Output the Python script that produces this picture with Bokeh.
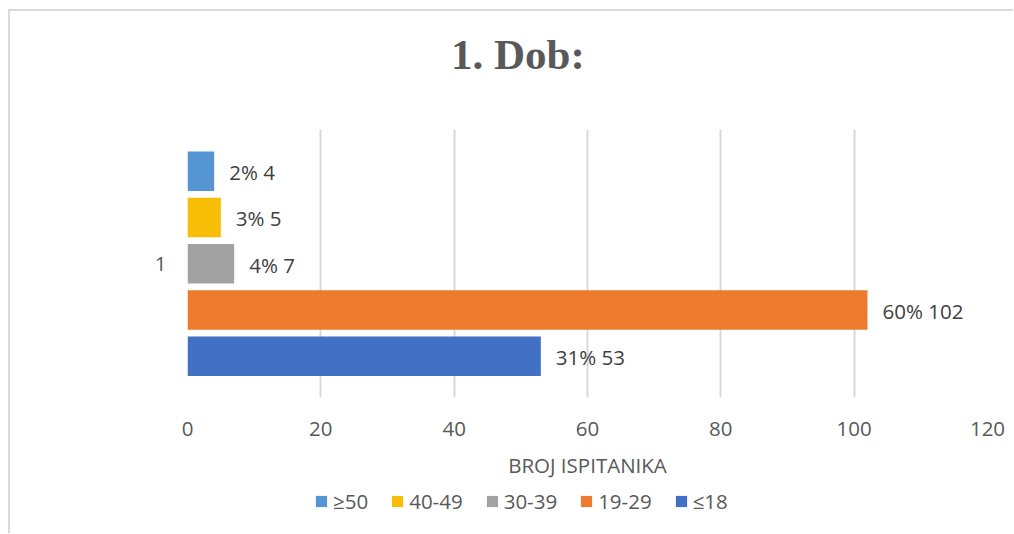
from bokeh.plotting import figure
from bokeh.layouts import column
from bokeh.models import (ColumnDataSource, Range1d, FixedTicker, Legend, LegendItem, Div)
from bokeh.core.properties import value
from bokeh.embed import file_html
from bokeh.resources import INLINE

# ---- data ----
categories = ["≥50", "40-49", "30-39", "19-29", "≤18"]
counts = [4, 5, 7, 102, 53]
percents = ["2%", "3%", "4%", "60%", "31%"]
colors = ["#5595d3", "#f8bd07", "#a2a2a2", "#ee7a2e", "#4270c4"]
group_label = "1"
x_ticks = [0, 20, 40, 60, 80, 100, 120]
title_text = "1. Dob:"
x_label = "BROJ ISPITANIKA"

n = len(categories)
ypos = [n - 1 - i for i in range(n)]  # top to bottom
labels = [f"{p} {c}" for p, c in zip(percents, counts)]

FONT = "Open Sans"
FS = "20.5px"

# title block
title_div = Div(
    text=('<div style="padding-left:441px;padding-top:19px;margin:0;'
          'font-family:\'Liberation Serif\';font-weight:bold;font-size:43px;'
          'line-height:49px;color:#595959;white-space:nowrap">'
          f'{title_text}</div>'),
    width=1003, height=90, margin=0)

p = figure(frame_width=800, frame_height=268, output_backend="svg", toolbar_location=None,
           x_range=Range1d(0, 120), y_range=Range1d(-0.89, n - 1 + 0.9),
           min_border_left=177, min_border_right=26, min_border_top=28,
           min_border_bottom=92)
p.title.text = ""
p.background_fill_color = "white"
p.border_fill_color = "white"
p.outline_line_color = None

for i in range(n):
    src = ColumnDataSource(dict(y=[ypos[i]], right=[counts[i]], lab=[labels[i]]))
    p.hbar(y="y", right="right", left=0, height=0.853, source=src,
           fill_color=colors[i], line_color=None)
    p.text(x="right", y="y", text="lab", source=src, x_offset=15, y_offset=1,
           text_baseline="middle", text_align="left",
           text_font=value(FONT), text_font_size=FS, text_color="#404040")

# axes
p.xaxis.ticker = FixedTicker(ticks=x_ticks)
p.xaxis.axis_line_color = None
p.xaxis.major_tick_line_color = None
p.xaxis.minor_tick_line_color = None
p.xaxis.major_label_text_font = FONT
p.xaxis.major_label_text_font_size = FS
p.xaxis.major_label_text_color = "#595959"
p.xaxis.major_label_standoff = 18
p.xaxis.axis_label = x_label
p.xaxis.axis_label_text_font = FONT
p.xaxis.axis_label_text_font_size = FS
p.xaxis.axis_label_text_font_style = "normal"
p.xaxis.axis_label_text_color = "#595959"
p.xaxis.axis_label_standoff = 12

p.yaxis.ticker = FixedTicker(ticks=[(n - 1) / 2])
p.yaxis.major_label_overrides = {(n - 1) / 2: group_label}
p.yaxis.axis_line_color = None
p.yaxis.major_tick_line_color = None
p.yaxis.minor_tick_line_color = None
p.yaxis.major_label_text_font = FONT
p.yaxis.major_label_text_font_size = FS
p.yaxis.major_label_text_color = "#595959"
p.yaxis.major_label_standoff = 15

p.xgrid.grid_line_color = "#d9d9d9"
p.xgrid.grid_line_width = 2
p.ygrid.grid_line_color = None

# legend strip: same series as zero-height bars, so only the legend keys show
lg = figure(width=1003, height=44, output_backend="svg", toolbar_location=None,
            x_range=Range1d(0, 120), y_range=Range1d(-1, n),
            min_border_left=0, min_border_right=0, min_border_top=0, min_border_bottom=0)
lg.axis.visible = False
lg.grid.grid_line_color = None
lg.outline_line_color = None
lg.background_fill_color = "white"
lg.border_fill_color = "white"

items = []
for i in range(n):
    r = lg.hbar(y="y", right="right", left=0, height=0,
                source=ColumnDataSource(dict(y=[ypos[i]], right=[counts[i]])),
                fill_color=colors[i], line_color=None)
    items.append(LegendItem(label=categories[i], renderers=[r]))

legend = Legend(items=items, orientation="horizontal", location=(127, 18),
                glyph_width=14, glyph_height=14, label_standoff=5, spacing=22,
                padding=0, margin=0, border_line_color=None,
                background_fill_alpha=0,
                label_text_font=FONT, label_text_font_size=FS,
                label_text_color="#595959")
lg.add_layout(legend, "center")

layout = column(title_div, p, lg, spacing=0)
layout.styles = {"margin-left": "8px", "margin-top": "9px",
                 "border-left": "2px solid #d9d9d9", "border-top": "2px solid #d9d9d9"}

open("out.html", "w").write(file_html(layout, INLINE))
